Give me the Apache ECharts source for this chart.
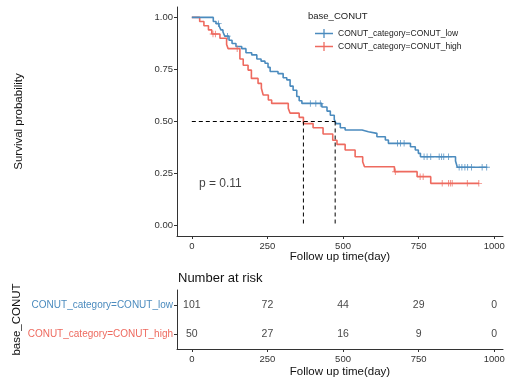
<!DOCTYPE html>
<html>
<head>
<meta charset="utf-8">
<script src="https://cdn.jsdelivr.net/npm/echarts@6/dist/echarts.min.js"></script>
<style>html,body{margin:0;padding:0;background:#fff}#c{width:505px;height:383px}</style>
</head>
<body>
<div id="c"></div>
<script>
// ---- data ----
var groups = ['CONUT_category=CONUT_low', 'CONUT_category=CONUT_high'];
var lowTime = [0,71,80,90,96,103,109,123,133,146,165,179,198,215,229,242,252,259,285,302,314,325,335,347,355,364,430,447,458,471,477,491,507,563,584,612,640,650,723,739,749,756,872,878];
var lowSurv = [1,0.98,0.97,0.96,0.94,0.93,0.91,0.89,0.875,0.86,0.85,0.83,0.82,0.80,0.79,0.78,0.76,0.74,0.73,0.71,0.70,0.67,0.65,0.62,0.60,0.587,0.57,0.55,0.53,0.51,0.49,0.47,0.459,0.451,0.443,0.427,0.411,0.395,0.379,0.363,0.347,0.331,0.31,0.28];
var lowEnd = 977;
var lowCensor = [88,118,392,410,425,680,690,702,768,778,790,818,826,833,849,884,893,903,912,925,960,975];
var highTime = [0,26,40,55,66,93,115,120,159,170,186,197,219,230,236,253,264,319,325,355,369,401,434,466,480,507,540,565,571,670,745,790];
var highSurv = [1,0.98,0.96,0.94,0.92,0.90,0.87,0.85,0.80,0.77,0.747,0.707,0.683,0.66,0.627,0.603,0.587,0.563,0.54,0.52,0.49,0.47,0.44,0.41,0.39,0.363,0.331,0.307,0.283,0.259,0.235,0.203];
var highEnd = 950;
var highCensor = [70,78,150,673,755,765,828,849,855,861,911,949];
var medianLow = 474, medianHigh = 369;
var pText = 'p = 0.11';
var xTicks = [0,250,500,750,1000];
var yTicks = [0,0.25,0.5,0.75,1];
var riskTimes = [0,250,500,750,1000];
var riskLow = [101,72,44,29,0];
var riskHigh = [50,27,16,9,0];

// ---- helpers ----
var BLUE = '#4B8BBE', RED = '#EE6A5F';
var FONT = 'Liberation Sans';
function curve(t, s, end){ var d=t.map(function(v,i){return [v,s[i]];}); d.push([end,s[s.length-1]]); return d; }
function survAt(t, s, x){ var v=s[0]; for(var i=0;i<t.length;i++){ if(t[i]<=x) v=s[i]; } return v; }
function censorPts(t, s, c){ return c.map(function(x){return [x, survAt(t,s,x)];}); }
var plus = 'path://M-0.7,-5H0.7V-0.7H5V0.7H0.7V5H-0.7V0.7H-5V-0.7H-0.7Z';
var legendIcon = 'path://M0,9.3H20V10.7H0Z M9.3,5H10.7V15H9.3Z';

var chart = echarts.init(document.getElementById('c'));
var axisLine = {show:true, onZero:false, lineStyle:{color:'#333', width:1}};
var axisTick = {show:true, length:3, lineStyle:{color:'#333'}};
var xAx = function(gi, gap){ return {
  type:'value', gridIndex:gi, min:-49, max:1029,
  axisLine:axisLine, axisTick:Object.assign({customValues:xTicks}, axisTick),
  splitLine:{show:false},
  axisLabel:{customValues:xTicks, formatter:function(v){return String(v);}, color:'#333', fontFamily:FONT, fontSize:9.5, margin:5},
  name:'Follow up time(day)', nameLocation:'middle', nameGap:gap, nameMoveOverlap:false,
  nameTextStyle:{color:'#111', fontFamily:FONT, fontSize:11.5}
};};
var hidden = {color:'rgba(0,0,0,0)'};

var option = {
  animation:false,
  title:{text:'base_CONUT', left:303, top:6, textStyle:{fontFamily:FONT, fontSize:9.5, fontWeight:'normal', color:'#222'}},
  legend:{
    data:[{name:groups[0], icon:legendIcon},{name:groups[1], icon:legendIcon}],
    orient:'vertical', left:310, top:24, itemWidth:18, itemHeight:10, itemGap:4,
    textStyle:{fontFamily:FONT, fontSize:8.5, color:'#222'}
  },
  grid:[
    {left:177, top:7, right:2, height:229, outerBoundsMode:'none', containLabel:false},
    {left:177, top:290, right:2, height:59, outerBoundsMode:'none', containLabel:false}
  ],
  xAxis:[xAx(0, 15), xAx(1, 17)],
  yAxis:[
    {type:'value', gridIndex:0, min:-0.05, max:1.05,
     axisLine:axisLine, axisTick:Object.assign({customValues:yTicks}, axisTick), splitLine:{show:false},
     axisLabel:{customValues:yTicks, formatter:function(v){return v.toFixed(2);}, color:'#333', fontFamily:FONT, fontSize:9.5, margin:4},
     name:'Survival probability', nameLocation:'middle', nameGap:152, nameRotate:90, nameMoveOverlap:false,
     nameTextStyle:{color:'#111', fontFamily:FONT, fontSize:11.5}},
    {type:'category', gridIndex:1, data:groups, inverse:true,
     axisLine:axisLine, axisTick:Object.assign({alignWithLabel:true}, axisTick),
     axisLabel:{fontFamily:FONT, fontSize:10, margin:4, color:function(v,i){return v===groups[0]?BLUE:RED;}},
     name:'base_CONUT', nameLocation:'middle', nameGap:154, nameRotate:90, nameMoveOverlap:false,
     nameTextStyle:{color:'#111', fontFamily:FONT, fontSize:11.5}}
  ],
  graphic:[
    {type:'text', left:178, top:272, style:{text:'Number at risk', font:'13px "Liberation Sans"', fill:'#111'}}
  ],
  series:[
    {name:groups[0], type:'line', step:'end', xAxisIndex:0, yAxisIndex:0, data:curve(lowTime,lowSurv,lowEnd),
     showSymbol:false, symbol:'none', lineStyle:{color:BLUE, width:1.6}, itemStyle:{color:BLUE}, z:3},
    {name:groups[1], type:'line', step:'end', xAxisIndex:0, yAxisIndex:0, data:curve(highTime,highSurv,highEnd),
     showSymbol:false, symbol:'none', lineStyle:{color:RED, width:1.6}, itemStyle:{color:RED}, z:2},
    {name:groups[0], type:'scatter', xAxisIndex:0, yAxisIndex:0, data:censorPts(lowTime,lowSurv,lowCensor),
     symbol:plus, symbolSize:6.5, itemStyle:{color:BLUE}, z:4},
    {name:groups[1], type:'scatter', xAxisIndex:0, yAxisIndex:0, data:censorPts(highTime,highSurv,highCensor),
     symbol:plus, symbolSize:6.5, itemStyle:{color:RED}, z:4},
    {type:'line', xAxisIndex:0, yAxisIndex:0, data:[[0,0.5],[medianLow,0.5]], symbol:'none',
     lineStyle:{color:'#000', width:1, type:[4,3]}, z:5},
    {type:'line', xAxisIndex:0, yAxisIndex:0, data:[[medianHigh,0.5],[medianHigh,0]], symbol:'none',
     lineStyle:{color:'#000', width:1, type:[4,3]}, z:5},
    {type:'line', xAxisIndex:0, yAxisIndex:0, data:[[medianLow,0.5],[medianLow,0]], symbol:'none',
     lineStyle:{color:'#000', width:1, type:[4,3]}, z:5},
    {type:'scatter', xAxisIndex:0, yAxisIndex:0, data:[[22,0.2]], symbol:'circle', symbolSize:1, itemStyle:hidden, silent:true,
     label:{show:true, formatter:pText, position:'right', distance:0, fontFamily:FONT, fontSize:12, color:'#111'}},
    {type:'scatter', xAxisIndex:1, yAxisIndex:1, symbol:'circle', symbolSize:1, itemStyle:hidden, silent:true,
     data:riskTimes.map(function(t,i){return [t, groups[0], riskLow[i]];}),
     label:{show:true, position:'inside', formatter:function(p){return String(p.data[2]);}, fontFamily:FONT, fontSize:10.5, color:'#111'}},
    {type:'scatter', xAxisIndex:1, yAxisIndex:1, symbol:'circle', symbolSize:1, itemStyle:hidden, silent:true,
     data:riskTimes.map(function(t,i){return [t, groups[1], riskHigh[i]];}),
     label:{show:true, position:'inside', formatter:function(p){return String(p.data[2]);}, fontFamily:FONT, fontSize:10.5, color:'#111'}}
  ]
};
chart.setOption(option);
</script>
</body>
</html>
